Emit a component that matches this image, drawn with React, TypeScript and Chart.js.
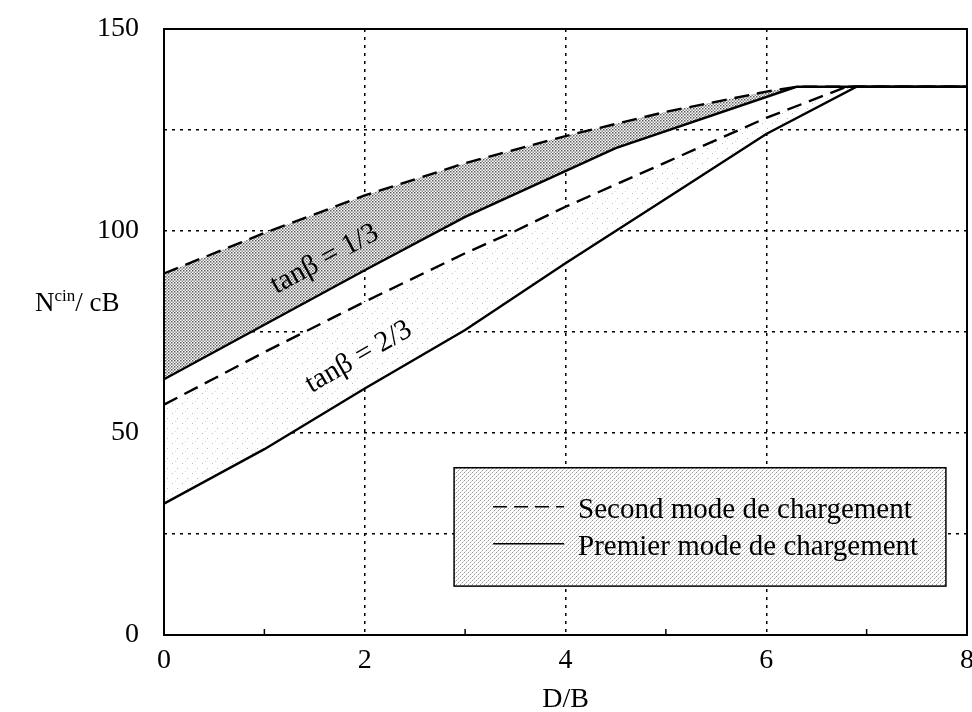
import React, { useEffect, useRef } from 'react';
import { Chart, registerables } from 'chart.js';

Chart.register(...registerables);

// ---- data ----
const xDashed13 = [0, 1, 2, 3, 4, 5, 6, 6.3, 8];
const yDashed13 = [89.5, 99.5, 108.8, 116.8, 123.5, 129.5, 134.5, 135.7, 135.7];
const xSolid13 = [0, 1, 2, 3, 4.5, 6.3, 8];
const ySolid13 = [63.3, 76.8, 90.3, 103.5, 120.5, 135.7, 135.7];
const xDashed23 = [0, 1, 2, 3, 3.5, 4, 5, 6, 6.8, 8];
const yDashed23 = [57, 70, 82.5, 94.5, 100, 106, 117, 128, 135.7, 135.7];
const xSolid23 = [0, 1, 2, 3, 4, 5, 6, 6.9, 8];
const ySolid23 = [32.5, 46, 61, 75.5, 92, 108, 124, 135.7, 135.7];

const xTickLabels = [0, 2, 4, 6, 8];
const yTickLabels = [0, 50, 100, 150];
const xGridValues = [2, 4, 6];
const yGridValues = [25, 50, 75, 100, 125];
const xMinorTicks = [1, 3, 5, 7];

const seriesLabels = [
  'Second mode, tanβ = 1/3',
  'Premier mode, tanβ = 1/3',
  'Second mode, tanβ = 2/3',
  'Premier mode, tanβ = 2/3',
];
const legendLabels = ['Second mode de chargement', 'Premier mode de chargement'];
const curveLabels = ['tanβ = 1/3', 'tanβ = 2/3'];
const xTitle = 'D/B';
const yTitleMain = 'N';
const yTitleSup = 'cin';
const yTitleRest = '/ cB';

const FONT = 'Liberation Serif';

function pts(xs: number[], ys: number[]) {
  return xs.map((x, i) => ({ x, y: ys[i] }));
}

function makePattern(ctx: CanvasRenderingContext2D, size: number, draw: (g: CanvasRenderingContext2D) => void) {
  const c = document.createElement('canvas');
  c.width = size;
  c.height = size;
  const g = c.getContext('2d')!;
  g.fillStyle = '#ffffff';
  g.fillRect(0, 0, size, size);
  draw(g);
  return ctx.createPattern(c, 'repeat') as CanvasPattern;
}

export default function App() {
  const ref = useRef<HTMLCanvasElement | null>(null);

  useEffect(() => {
    const canvas = ref.current;
    if (!canvas) return;
    const ctx0 = canvas.getContext('2d')!;

    const darkPattern = makePattern(ctx0, 3, (g) => {
      g.fillStyle = '#5a5a5a';
      g.fillRect(0, 0, 1.5, 1.5);
      g.fillStyle = '#8a8a8a';
      g.fillRect(1.5, 1.5, 1.5, 1.5);
    });
    const lightPattern = makePattern(ctx0, 10, (g) => {
      g.fillStyle = '#bcbcbc';
      g.fillRect(2, 3, 1, 1);
      g.fillRect(7, 8, 1, 1);
      g.fillStyle = '#dadada';
      g.fillRect(5, 1, 1, 1);
    });
    const legendPattern = makePattern(ctx0, 4, (g) => {
      g.fillStyle = '#9a9a9a';
      g.fillRect(0, 0, 1, 1);
      g.fillRect(2, 2, 1, 1);
      g.fillStyle = '#cfcfcf';
      g.fillRect(1, 3, 1, 1);
      g.fillRect(3, 1, 1, 1);
    });

    const decorations = {
      id: 'decorations',
      afterDraw(chart: any) {
        const { ctx, chartArea } = chart;
        const xs = chart.scales.x;
        const ys = chart.scales.y;
        ctx.save();

        // frame
        ctx.strokeStyle = '#000';
        ctx.lineWidth = 2;
        ctx.setLineDash([]);
        ctx.strokeRect(chartArea.left, chartArea.top, chartArea.right - chartArea.left, chartArea.bottom - chartArea.top);

        // minor ticks (inward) on bottom axis
        ctx.lineWidth = 1.5;
        xMinorTicks.forEach((v) => {
          const px = xs.getPixelForValue(v);
          ctx.beginPath();
          ctx.moveTo(px, chartArea.bottom);
          ctx.lineTo(px, chartArea.bottom - 6);
          ctx.stroke();
        });

        // curve labels, rotated along the solid lines
        const drawCurveLabel = (text: string, cx: number, cy: number, xsArr: number[], ysArr: number[]) => {
          const p0x = xs.getPixelForValue(xsArr[0]);
          const p0y = ys.getPixelForValue(ysArr[0]);
          const p1x = xs.getPixelForValue(xsArr[3]);
          const p1y = ys.getPixelForValue(ysArr[3]);
          const ang = Math.atan2(p1y - p0y, p1x - p0x);
          ctx.save();
          ctx.translate(xs.getPixelForValue(cx), ys.getPixelForValue(cy));
          ctx.rotate(ang);
          ctx.fillStyle = '#000';
          ctx.font = `29px "${FONT}"`;
          ctx.textAlign = 'center';
          ctx.textBaseline = 'middle';
          ctx.fillText(text, 0, 0);
          ctx.restore();
        };
        drawCurveLabel(curveLabels[0], 1.6, 93.0, xSolid13, ySolid13);
        drawCurveLabel(curveLabels[1], 1.94, 68.8, xSolid23, ySolid23);

        // legend box
        const lx0 = xs.getPixelForValue(2.89);
        const lx1 = xs.getPixelForValue(7.79);
        const ly0 = ys.getPixelForValue(41.4);
        const ly1 = ys.getPixelForValue(12.1);
        ctx.fillStyle = legendPattern;
        ctx.fillRect(lx0, ly0, lx1 - lx0, ly1 - ly0);
        ctx.strokeStyle = '#000';
        ctx.lineWidth = 1.5;
        ctx.strokeRect(lx0, ly0, lx1 - lx0, ly1 - ly0);

        ctx.font = `29px "${FONT}"`;
        ctx.textAlign = 'left';
        ctx.textBaseline = 'alphabetic';
        const rows = [ly0 + 50, ly0 + 87];
        rows.forEach((base, i) => {
          ctx.save();
          ctx.strokeStyle = '#000';
          ctx.lineWidth = 1.5;
          ctx.setLineDash(i === 0 ? [14, 7] : []);
          ctx.beginPath();
          ctx.moveTo(lx0 + 39, base - 11);
          ctx.lineTo(lx0 + 110, base - 11);
          ctx.stroke();
          ctx.restore();
          ctx.fillStyle = '#000';
          ctx.fillText(legendLabels[i], lx0 + 124, base);
        });

        // axis titles
        ctx.fillStyle = '#000';
        ctx.font = `28px "${FONT}"`;
        ctx.textAlign = 'center';
        ctx.fillText(xTitle, xs.getPixelForValue(4), 707);

        ctx.textAlign = 'left';
        let tx = 35;
        const tb = 311;
        ctx.font = `27px "${FONT}"`;
        ctx.fillText(yTitleMain, tx, tb);
        tx += ctx.measureText(yTitleMain).width;
        ctx.font = `17px "${FONT}"`;
        ctx.fillText(yTitleSup, tx, tb - 10);
        tx += ctx.measureText(yTitleSup).width;
        ctx.font = `27px "${FONT}"`;
        ctx.fillText(yTitleRest, tx, tb);

        ctx.restore();
      },
    };

    const chart = new Chart(canvas, {
      type: 'line',
      data: {
        datasets: [
          {
            label: seriesLabels[0],
            data: pts(xDashed13, yDashed13),
            borderColor: '#000',
            borderWidth: 2.4,
            borderDash: [15, 8],
            fill: 1,
            backgroundColor: darkPattern,
          },
          {
            label: seriesLabels[1],
            data: pts(xSolid13, ySolid13),
            borderColor: '#000',
            borderWidth: 2.4,
            fill: false,
          },
          {
            label: seriesLabels[2],
            data: pts(xDashed23, yDashed23),
            borderColor: '#000',
            borderWidth: 2.4,
            borderDash: [15, 8],
            fill: 3,
            backgroundColor: lightPattern,
          },
          {
            label: seriesLabels[3],
            data: pts(xSolid23, ySolid23),
            borderColor: '#000',
            borderWidth: 2.4,
            fill: false,
          },
        ],
      },
      options: {
        animation: false,
        responsive: true,
        maintainAspectRatio: false,
        layout: { padding: { left: 0, right: 5, top: 29, bottom: 0 } },
        elements: { point: { radius: 0, hoverRadius: 0 }, line: { tension: 0 } },
        plugins: {
          legend: { display: false },
          tooltip: { enabled: false },
          filler: { drawTime: 'beforeDatasetsDraw' },
        },
        scales: {
          x: {
            type: 'linear',
            min: 0,
            max: 8,
            afterFit: (s: any) => {
              s.height = 77;
              s.paddingLeft = 0;
              s.paddingRight = 0;
            },
            ticks: {
              stepSize: 1,
              autoSkip: false,
              maxRotation: 0,
              padding: 9,
              color: '#000',
              font: { family: FONT, size: 28 },
              callback: (v: any) => (xTickLabels.includes(Number(v)) ? String(v) : ''),
            },
            grid: {
              drawTicks: false,
              lineWidth: 1.5,
              color: (c: any) => (c.tick && xGridValues.includes(c.tick.value) ? '#000' : 'rgba(0,0,0,0)'),
            },
            border: { display: false, dash: [3, 5] },
          },
          y: {
            type: 'linear',
            min: 0,
            max: 150,
            afterFit: (s: any) => {
              s.width = 164;
              s.paddingTop = 0;
              s.paddingBottom = 0;
            },
            ticks: {
              stepSize: 25,
              autoSkip: false,
              padding: 25,
              color: '#000',
              font: { family: FONT, size: 28 },
              callback: (v: any) => (yTickLabels.includes(Number(v)) ? String(v) : ''),
            },
            grid: {
              drawTicks: false,
              lineWidth: 1.5,
              color: (c: any) => (c.tick && yGridValues.includes(c.tick.value) ? '#000' : 'rgba(0,0,0,0)'),
            },
            border: { display: false, dash: [3, 5] },
          },
        },
      },
      plugins: [decorations],
    } as any);

    return () => chart.destroy();
  }, []);

  return (
    <div style={{ position: 'fixed', left: 0, top: 0, width: 972, height: 712, background: '#fff' }}>
      <canvas ref={ref} />
    </div>
  );
}
